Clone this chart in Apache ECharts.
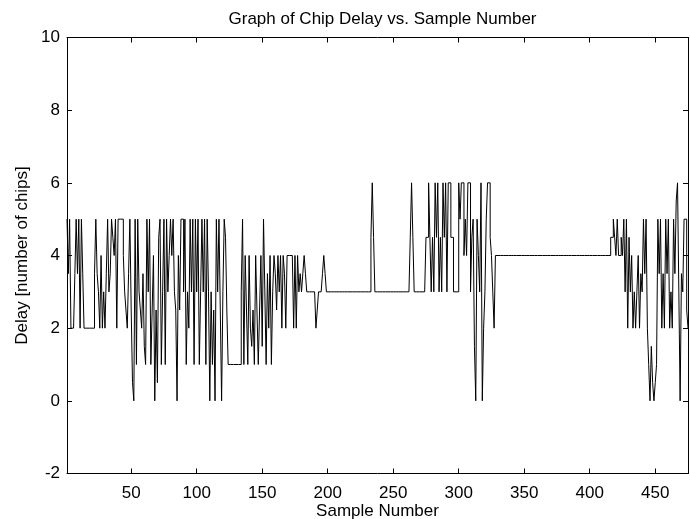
<!DOCTYPE html>
<html>
<head>
<meta charset="utf-8">
<script src="https://cdn.jsdelivr.net/npm/echarts@6/dist/echarts.min.js"></script>
<style>
html,body{margin:0;padding:0;background:#fff;}
#chart{width:690px;height:519px;}
</style>
</head>
<body>
<div id="chart"></div>
<script>
var titleText = 'Graph of Chip Delay vs. Sample Number';
var xLabel = 'Sample Number';
var yLabel = 'Delay [number of chips]';
var xTicks = [50, 100, 150, 200, 250, 300, 350, 400, 450];
var yMin = -2, yMax = 10, yStep = 2;
var xMin = 1, xMax = 475;

// chip delay per sample (samples 1..475)
var delay = [
5,3.5,5,2,2,2,3.5,5,3.5,5,
2,5,3.5,2,2,2,2,2,2,2,
2,3.5,5,3.5,3,2,4,2,3,2,
3.5,5,3,3.5,5,4.5,4,5,2,5,
5,5,5,4,3,2.5,2,3.5,5,2.5,
0.5,0,5,1,5,3,2.5,2,3.5,1.5,
1,5,3,5,1,2.5,4,0,2.5,0.5,
4.5,5,1,3,5,1,5,3,4,5,
4,5,3,2.5,0,4,2.5,5,5,3,
5,1,3,2,5,3,5,1,5,3,
5,1,3,5,3,5,1,5,3,0,
3,1,2.5,0,5,3,5,2.5,0,3,
5,4.5,2.5,1,1,1,1,1,1,1,
1,1,1,3,5,1,4,2.5,1,4,
2,1.5,2.5,1,4,2.5,1,2.5,4,1.5,
5,3,1,3.5,2,4,1,3,4,3.5,
2.5,4,3,4,2,4,3.5,2,4,4,
4,4,4,2,4,2,4,3,3.5,3,
3.5,4,3.5,3,3,3,3,3,3,3,
2,2.5,3,3,3,3.5,4,3.5,3,3,
3,3,3,3,3,3,3,3,3,3,
3,3,3,3,3,3,3,3,3,3,
3,3,3,3,3,3,3,3,3,3,
3,3,4.5,6,4.5,3,3,3,3,3,
3,3,3,3,3,3,3,3,3,3,
3,3,3,3,3,3,3,3,3,3,
3,3,4.5,6,4.5,3,3,3,3,3,
3,3,3,3,4.5,4.5,6,4.5,3,4.5,
3,6,4.5,6,3,4.5,3,6,4.5,6,
3,6,6,4.5,4.5,3,3,3,3,6,
5,6,6,4,5,4,6,6,3,4.5,
5,1.5,0,5,4,3,6,0,2,3,
5,6,6,4.5,4,3,2,4,4,4,
4,4,4,4,4,4,4,4,4,4,
4,4,4,4,4,4,4,4,4,4,
4,4,4,4,4,4,4,4,4,4,
4,4,4,4,4,4,4,4,4,4,
4,4,4,4,4,4,4,4,4,4,
4,4,4,4,4,4,4,4,4,4,
4,4,4,4,4,4,4,4,4,4,
4,4,4,4,4,4,4,4,4,4,
4,4,4,4,4,4.5,4.5,5,4.5,4,
5,4,4,4.5,4,5,3,5,2,4.5,
3,4,2,3,2,3,4,2,3.5,3,
5,3.5,5,2,1,0,1.5,0.5,0,0.5,
1,5,3.5,5,2,3.5,2,5,3.5,5,
2,3,2,5,3.5,5.5,6,3,0,3.5,
3,5,5,2.5,2
];

var seriesData = delay.map(function (v, i) { return [i + 1, v]; });

var FONT = "'Liberation Sans', Arial, sans-serif";
var FS = 17;
var black = '#000';

function xAxisCfg(pos, showLabels) {
  return {
    type: 'value', position: pos, min: xMin, max: xMax,
    axisLine: { show: true, onZero: false, lineStyle: { color: black, width: 1 } },
    axisTick: { show: true, inside: true, length: 5, customValues: xTicks, lineStyle: { color: black } },
    axisLabel: { show: showLabels, customValues: xTicks, color: black, fontFamily: FONT, fontSize: FS, margin: 11 },
    splitLine: { show: false },
    name: showLabels ? xLabel : '',
    nameLocation: 'middle', nameGap: 29, nameMoveOverlap: false,
    nameTextStyle: { color: black, fontFamily: FONT, fontSize: FS }
  };
}
function yAxisCfg(pos, showLabels) {
  return {
    type: 'value', position: pos, min: yMin, max: yMax, interval: yStep,
    axisLine: { show: true, onZero: false, lineStyle: { color: black, width: 1 } },
    axisTick: { show: true, inside: true, length: 5, lineStyle: { color: black } },
    axisLabel: { show: showLabels, color: black, fontFamily: FONT, fontSize: FS, margin: 7 },
    splitLine: { show: false },
    name: showLabels ? yLabel : '',
    nameLocation: 'middle', nameGap: 36, nameMoveOverlap: false,
    nameTextStyle: { color: black, fontFamily: FONT, fontSize: FS }
  };
}

var chart = echarts.init(document.getElementById('chart'), null, { renderer: 'canvas' });
chart.setOption({
  animation: false,
  backgroundColor: '#fff',
  title: {
    text: titleText, left: 377.5, top: 6, textAlign: 'center',
    textStyle: { color: black, fontFamily: FONT, fontSize: FS, fontWeight: 'normal' }
  },
  grid: { left: 67, right: 2, top: 37.5, bottom: 45.5, containLabel: false, outerBoundsMode: 'none' },
  xAxis: [xAxisCfg('bottom', true), xAxisCfg('top', false)],
  yAxis: [yAxisCfg('left', true), yAxisCfg('right', false)],
  series: [{
    type: 'line', data: seriesData, xAxisIndex: 0, yAxisIndex: 0,
    step: 'end',
    showSymbol: false, symbol: 'none',
    lineStyle: { color: black, width: 1 },
    silent: true
  }]
});
</script>
</body>
</html>
